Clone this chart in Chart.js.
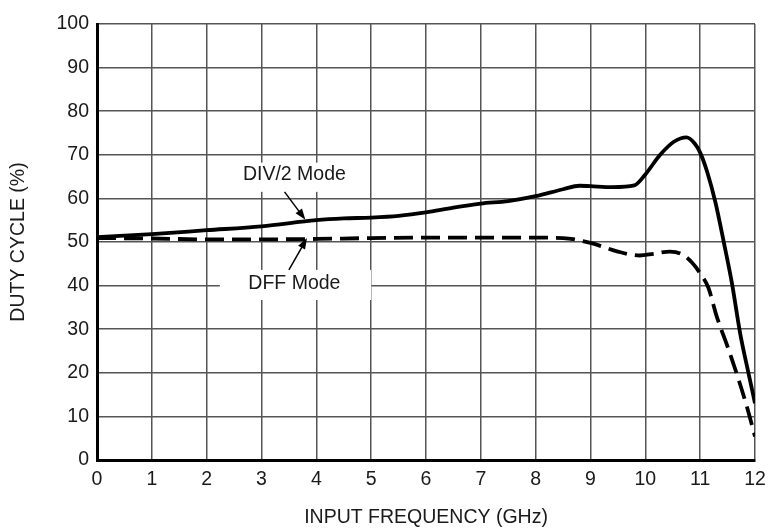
<!DOCTYPE html>
<html>
<head>
<meta charset="utf-8">
<script src="https://cdn.jsdelivr.net/npm/chart.js@4.4.1/dist/chart.umd.min.js"></script>
<style>
  html, body { margin: 0; padding: 0; background: #ffffff; }
  #wrap { width: 770px; height: 531px; position: relative; }
</style>
</head>
<body>
<div id="wrap"><canvas id="dutyChart"></canvas></div>
<script>
// Données (fréquence en GHz, rapport cyclique en %)
const freqDiv2 = [0, 1, 2, 3, 4, 4.5, 5, 5.5, 6, 6.5, 7, 7.5, 8, 8.5, 8.8, 9, 9.4, 9.8, 10, 10.27, 10.52, 10.75, 10.9, 11.0, 11.13, 11.28, 11.43, 11.58, 11.73, 11.88, 12];
const dutyDiv2 = [51.1, 51.8, 52.7, 53.6, 55.0, 55.4, 55.6, 56.0, 56.8, 57.9, 58.8, 59.4, 60.5, 62.1, 62.9, 62.8, 62.6, 63.0, 65.5, 70.0, 73.0, 74.0, 72.6, 70.5, 66.0, 59.0, 50.0, 40.5, 29.0, 20.0, 13.0];

const freqDff = [0, 1, 2, 3, 4, 5, 6, 7, 8, 8.5, 9, 9.5, 9.9, 10.15, 10.45, 10.65, 10.85, 11.0, 11.15, 11.3, 11.5, 11.7, 11.85, 12];
const dutyDff = [50.9, 50.8, 50.6, 50.6, 50.7, 50.9, 51.0, 51.0, 51.0, 50.9, 49.8, 47.8, 46.9, 47.3, 47.8, 47.3, 45.3, 42.8, 39.5, 33.0, 26.0, 18.5, 12.3, 5.4];

const xTicks = [0, 1, 2, 3, 4, 5, 6, 7, 8, 9, 10, 11, 12];
const yTicks = [0, 10, 20, 30, 40, 50, 60, 70, 80, 90, 100];

// Étiquettes des courbes avec leur flèche (en coordonnées du graphique)
const etiquettes = [
    { texte: 'DIV/2 Mode', x: 3.6, y: 65.4, boite: [2.5, 4.7, 68.2, 61.5], fleche: [3.42, 61.5, 3.8, 55.1] },
    { texte: 'DFF Mode', x: 3.6, y: 40.4, boite: [2.24, 5.0, 43.6, 36.7], fleche: [3.5, 43.6, 3.83, 50.9] }
];

const FONTE = '"Liberation Sans", Arial, sans-serif';
const TAILLE = 19.5;

const pontos = (xs, ys) => xs.map((x, i) => ({ x: x, y: ys[i] }));

// Plugin simples para desenhar as caixas de texto e as setas
const pluginEtiquetas = {
    id: 'etiquetas',
    beforeDatasetsDraw(chart) {
        const { ctx, scales: { x, y } } = chart;
        ctx.save();
        etiquettes.forEach(e => {
            const [x0, x1, y0, y1] = e.boite;
            ctx.fillStyle = '#ffffff';
            ctx.fillRect(x.getPixelForValue(x0), y.getPixelForValue(y0),
                x.getPixelForValue(x1) - x.getPixelForValue(x0),
                y.getPixelForValue(y1) - y.getPixelForValue(y0));
            ctx.fillStyle = '#1a1a1a';
            ctx.font = TAILLE + 'px ' + FONTE;
            ctx.textAlign = 'center';
            ctx.textBaseline = 'middle';
            ctx.fillText(e.texte, x.getPixelForValue(e.x), y.getPixelForValue(e.y));
        });
        ctx.restore();
    },
    afterDatasetsDraw(chart) {
        const { ctx, scales: { x, y } } = chart;
        ctx.save();
        etiquettes.forEach(e => {
            const [fx0, fy0, fx1, fy1] = e.fleche;
            const ax = x.getPixelForValue(fx0), ay = y.getPixelForValue(fy0);
            const bx = x.getPixelForValue(fx1), by = y.getPixelForValue(fy1);
            const ang = Math.atan2(by - ay, bx - ax);
            ctx.strokeStyle = '#000';
            ctx.fillStyle = '#000';
            ctx.lineWidth = 1.5;
            ctx.beginPath();
            ctx.moveTo(ax, ay);
            ctx.lineTo(bx - 8 * Math.cos(ang), by - 8 * Math.sin(ang));
            ctx.stroke();
            ctx.beginPath();
            ctx.moveTo(bx, by);
            ctx.lineTo(bx - 11 * Math.cos(ang) + 4 * Math.sin(ang), by - 11 * Math.sin(ang) - 4 * Math.cos(ang));
            ctx.lineTo(bx - 11 * Math.cos(ang) - 4 * Math.sin(ang), by - 11 * Math.sin(ang) + 4 * Math.cos(ang));
            ctx.closePath();
            ctx.fill();
        });
        ctx.restore();
    }
};

new Chart(document.getElementById('dutyChart'), {
    type: 'line',
    data: {
        datasets: [
            {
                label: 'DIV/2 Mode',
                data: pontos(freqDiv2, dutyDiv2),
                borderColor: '#000',
                borderWidth: 3.8,
                pointRadius: 0,
                cubicInterpolationMode: 'monotone',
                fill: false
            },
            {
                label: 'DFF Mode',
                data: pontos(freqDff, dutyDff),
                borderColor: '#000',
                borderWidth: 3.8,
                borderDash: [19, 8],
                pointRadius: 0,
                cubicInterpolationMode: 'monotone',
                fill: false
            }
        ]
    },
    options: {
        responsive: true,
        maintainAspectRatio: false,
        animation: false,
        layout: { padding: { top: 24, right: 15, left: 0, bottom: 0 } },
        plugins: { legend: { display: false }, tooltip: { enabled: false } },
        scales: {
            x: {
                type: 'linear',
                min: 0,
                max: 12,
                afterFit: (s) => { s.height = 71; s.paddingLeft = 0; s.paddingRight = 0; },
                afterBuildTicks: (s) => { s.ticks = xTicks.map(v => ({ value: v })); },
                grid: { color: '#555', lineWidth: 1.5, drawTicks: false },
                border: { color: '#000', width: 3 },
                ticks: { color: '#1a1a1a', padding: 8, font: { family: FONTE, size: TAILLE } },
                title: {
                    display: true,
                    text: 'INPUT FREQUENCY (GHz)',
                    color: '#1a1a1a',
                    padding: { top: 0, bottom: 2 },
                    font: { family: FONTE, size: TAILLE }
                }
            },
            y: {
                min: 0,
                max: 100,
                afterFit: (s) => { s.width = 97; s.paddingTop = 0; s.paddingBottom = 0; },
                afterBuildTicks: (s) => { s.ticks = yTicks.map(v => ({ value: v })); },
                grid: { color: '#555', lineWidth: 1.5, drawTicks: false },
                border: { color: '#000', width: 3 },
                ticks: { color: '#1a1a1a', padding: 8, font: { family: FONTE, size: TAILLE } },
                title: {
                    display: true,
                    text: 'DUTY CYCLE (%)',
                    color: '#1a1a1a',
                    padding: { top: 7, bottom: 0 },
                    font: { family: FONTE, size: TAILLE }
                }
            }
        }
    },
    plugins: [pluginEtiquetas]
});
</script>
</body>
</html>
